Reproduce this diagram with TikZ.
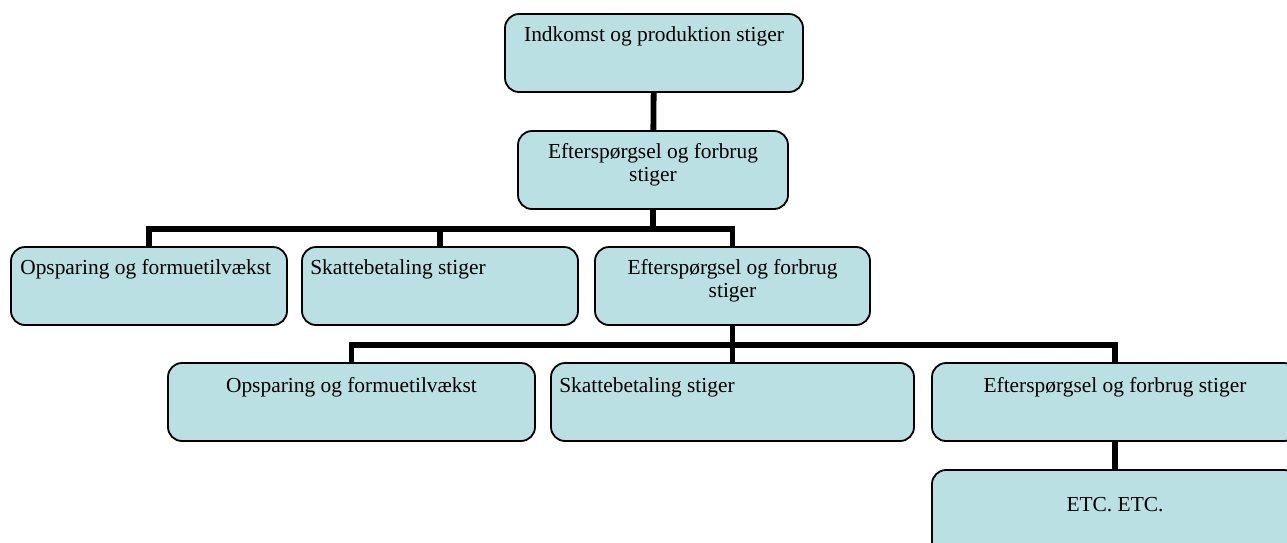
\documentclass[tikz,border=0pt]{standalone}
\usepackage{fontspec}
\setmainfont{Liberation Serif}
\usetikzlibrary{positioning}

\definecolor{boxfill}{RGB}{187,224,227}

\tikzset{
  box/.style={draw=black,line width=1.8pt,fill=boxfill,rounded corners=14pt,inner sep=0pt,minimum height=78pt},
  txt/.style={inner sep=0pt,font=\fontsize{21.4}{23.5}\selectfont},
  conn/.style={line width=5.8pt},
}

\begin{document}
\begin{tikzpicture}[x=1pt,y=-1pt]

  \clip (0,0) rectangle (1287,542);

  % boxes
  \node[box,minimum width=298pt] (inc)   at (654,53)    {};
  \node[box,minimum width=270pt] (eft1)  at (653,170)   {};

  \node[box,minimum width=276pt] (ops1)  at (149,286)   {};
  \node[box,minimum width=276pt] (skat1) at (440,286)   {};
  \node[box,minimum width=275pt] (eft2)  at (732.5,286) {};

  \node[box,minimum width=367pt] (ops2)  at (351.5,402) {};
  \node[box,minimum width=363pt] (skat2) at (732.5,402) {};
  \node[box,minimum width=366pt] (eft3)  at (1115,402)  {};

  \node[box,minimum width=366pt,minimum height=90pt] (etc) at (1115,515) {};

  % texts
  \node[txt,anchor=north] (incT) at ([yshift=-13.5pt]inc.north) {Indkomst og produktion stiger};
  \node[txt,anchor=north,align=center] (eft1T) at ([yshift=-13pt]eft1.north) {Efterspørgsel og forbrug\\stiger};

  \node[txt,anchor=north west] (ops1T) at ([xshift=10pt,yshift=-13.5pt]ops1.north west) {Opsparing og formuetilvækst};
  \node[txt,anchor=north west] (skat1T) at ([xshift=9pt,yshift=-13.5pt]skat1.north west) {Skattebetaling stiger};
  \node[txt,anchor=north,align=center] (eft2T) at ([yshift=-13pt]eft2.north) {Efterspørgsel og forbrug\\stiger};

  \node[txt,anchor=north] (ops2T) at ([yshift=-15pt]ops2.north) {Opsparing og formuetilvækst};
  \node[txt,anchor=north west] (skat2T) at ([xshift=9pt,yshift=-15pt]skat2.north west) {Skattebetaling stiger};
  \node[txt,anchor=north] (eft3T) at ([yshift=-15pt]eft3.north) {Efterspørgsel og forbrug stiger};

  \node[txt,anchor=north] (etcT) at ([yshift=-28pt]etc.north) {ETC. ETC.};

  % connectors
  \coordinate (bus1) at (0,229);
  \coordinate (bus2) at (0,345);

  \draw[conn] (inc) -- (eft1);
  \draw[conn] (eft1.south) -- (eft1.south |- bus1);
  \draw[conn] (ops1.north) -- (ops1.north |- bus1) -- (eft2.north |- bus1) -- (eft2.north);
  \draw[conn] (skat1.north) -- (skat1.north |- bus1);

  \draw[conn] (eft2.south) -- (skat2.north);
  \draw[conn] (ops2.north) -- (ops2.north |- bus2) -- (eft3.north |- bus2) -- (eft3.north);
  \draw[conn] (eft3) -- (etc);

\end{tikzpicture}
\end{document}
